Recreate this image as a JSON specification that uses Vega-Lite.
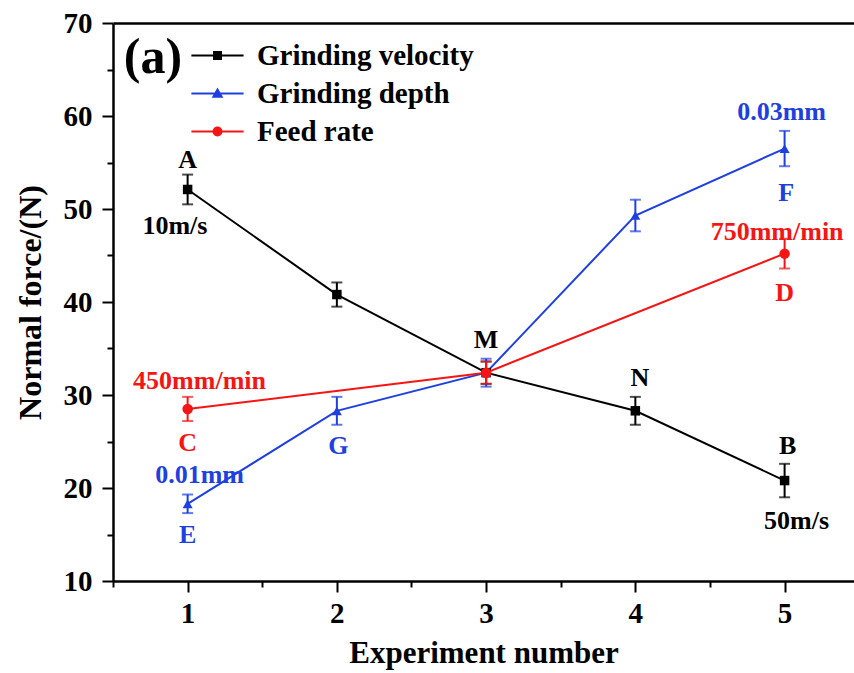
{
  "$schema": "https://vega.github.io/schema/vega-lite/v6.json",
  "width": 741,
  "height": 558,
  "autosize": {"type": "none"},
  "padding": {"left": 113, "top": 23, "right": 0, "bottom": 92},
  "background": "white",
  "config": {
    "view": {"stroke": null},
    "font": "Liberation Serif",
    "axis": {
      "grid": false,
      "domainColor": "black",
      "domainWidth": 2.5,
      "tickColor": "black",
      "tickWidth": 2,
      "labelFont": "Liberation Serif",
      "labelFontSize": 29,
      "labelFontWeight": "bold",
      "labelColor": "black",
      "titleFont": "Liberation Serif",
      "titleFontSize": 31,
      "titleFontWeight": "bold",
      "titleColor": "black"
    },
    "legend": {
      "labelFont": "Liberation Serif",
      "labelFontSize": 29,
      "labelFontWeight": "bold",
      "labelColor": "black",
      "labelLimit": 400
    }
  },
  "datasets": {
    "pts": [
      {"series": "Grinding velocity", "exp": 1, "force": 52.1, "err": 1.6},
      {"series": "Grinding velocity", "exp": 2, "force": 40.8, "err": 1.3},
      {"series": "Grinding velocity", "exp": 3, "force": 32.4, "err": 1.2},
      {"series": "Grinding velocity", "exp": 4, "force": 28.3, "err": 1.5},
      {"series": "Grinding velocity", "exp": 5, "force": 20.8, "err": 1.8},
      {"series": "Grinding depth", "exp": 1, "force": 18.3, "err": 1.0},
      {"series": "Grinding depth", "exp": 2, "force": 28.3, "err": 1.5},
      {"series": "Grinding depth", "exp": 3, "force": 32.4, "err": 1.5},
      {"series": "Grinding depth", "exp": 4, "force": 49.3, "err": 1.7},
      {"series": "Grinding depth", "exp": 5, "force": 56.5, "err": 1.9},
      {"series": "Feed rate", "exp": 1, "force": 28.5, "err": 1.3},
      {"series": "Feed rate", "exp": 3, "force": 32.4, "err": 1.2},
      {"series": "Feed rate", "exp": 5, "force": 45.2, "err": 1.6}
    ],
    "labels": [
      {"series": "Grinding velocity", "x": 1.0, "y": 55.3, "text": "A"},
      {"series": "Grinding velocity", "x": 0.915, "y": 48.2, "text": "10m/s"},
      {"series": "Grinding velocity", "x": 3.0, "y": 35.9, "text": "M"},
      {"series": "Grinding velocity", "x": 4.03, "y": 31.8, "text": "N"},
      {"series": "Grinding velocity", "x": 5.02, "y": 24.5, "text": "B"},
      {"series": "Grinding velocity", "x": 5.08, "y": 16.5, "text": "50m/s"},
      {"series": "Feed rate", "x": 1.08, "y": 31.5, "text": "450mm/min"},
      {"series": "Feed rate", "x": 1.0, "y": 24.8, "text": "C"},
      {"series": "Grinding depth", "x": 1.08, "y": 21.4, "text": "0.01mm"},
      {"series": "Grinding depth", "x": 1.0, "y": 14.9, "text": "E"},
      {"series": "Grinding depth", "x": 2.01, "y": 24.5, "text": "G"},
      {"series": "Grinding depth", "x": 4.98, "y": 60.4, "text": "0.03mm"},
      {"series": "Grinding depth", "x": 5.01, "y": 51.7, "text": "F"},
      {"series": "Feed rate", "x": 4.95, "y": 47.5, "text": "750mm/min"},
      {"series": "Feed rate", "x": 5.0, "y": 41.0, "text": "D"}
    ],
    "panel": [
      {"x": 0.768, "y": 64.6, "text": "(a)"}
    ]
  },
  "layer": [
    {
      "data": {"name": "pts"},
      "mark": {"type": "line", "strokeWidth": 2},
      "encoding": {
        "x": {
          "field": "exp", "type": "quantitative",
          "scale": {"domain": [0.5, 5.465], "nice": false, "zero": false},
          "axis": {
            "values": [0.5, 1, 1.5, 2, 2.5, 3, 3.5, 4, 4.5, 5, 5.5],
            "labelExpr": "datum.value % 1 === 0 ? format(datum.value, 'd') : ''",
            "tickSize": {"condition": {"test": "datum.value % 1 !== 0", "value": 6}, "value": 11},
            "labelPadding": 7,
            "title": "Experiment number",
            "titlePadding": 10
          }
        },
        "y": {
          "field": "force", "type": "quantitative",
          "title": "Normal force/(N)",
          "scale": {"domain": [10, 70], "nice": false, "zero": false},
          "axis": {
            "values": [10, 15, 20, 25, 30, 35, 40, 45, 50, 55, 60, 65, 70],
            "labelExpr": "datum.value % 10 === 0 ? format(datum.value, 'd') : ''",
            "tickSize": {"condition": {"test": "datum.value % 10 !== 0", "value": 6}, "value": 11},
            "labelPadding": 10,
            "title": "Normal force/(N)",
            "titleFontSize": 32,
            "titleX": -83,
            "titleBaseline": "middle"
          }
        },
        "color": {
          "field": "series", "type": "nominal",
          "scale": {"domain": ["Grinding velocity", "Grinding depth", "Feed rate"], "range": ["#000000", "#1f40e0", "#f51515"]},
          "legend": null
        },
        "order": {"field": "exp"}
      }
    },
    {
      "data": {"name": "panel"},
      "mark": {"type": "text", "font": "Liberation Serif", "fontWeight": "bold", "fontSize": 50, "baseline": "alphabetic", "align": "center", "color": "black"},
      "encoding": {
        "x": {"field": "x", "type": "quantitative", "axis": {"orient": "top", "labels": false, "ticks": false, "title": null, "domainWidth": 2.5}},
        "y": {"field": "y", "type": "quantitative", "title": "Normal force/(N)"},
        "text": {"field": "text"}
      }
    },
    {
      "data": {"name": "pts"},
      "mark": {"type": "errorbar", "thickness": 2, "ticks": {"size": 11, "thickness": 2}},
      "encoding": {
        "x": {"field": "exp", "type": "quantitative", "axis": null},
        "y": {"field": "force", "type": "quantitative", "title": "Normal force/(N)"},
        "yError": {"field": "err"},
        "color": {"field": "series", "type": "nominal", "legend": null}
      }
    },
    {
      "data": {"name": "pts"},
      "mark": {"type": "point", "filled": true, "opacity": 1},
      "encoding": {
        "x": {"field": "exp", "type": "quantitative", "axis": null},
        "y": {"field": "force", "type": "quantitative", "title": "Normal force/(N)"},
        "color": {"field": "series", "type": "nominal", "legend": null},
        "shape": {
          "field": "series", "type": "nominal",
          "scale": {"domain": ["Grinding velocity", "Grinding depth", "Feed rate"], "range": ["square", "triangle-up", "circle"]},
          "legend": null
        },
        "size": {
          "field": "series", "type": "nominal",
          "scale": {"domain": ["Grinding velocity", "Grinding depth", "Feed rate"], "range": [90, 110, 90]},
          "legend": null
        }
      }
    },
    {
      "data": {"name": "pts"},
      "mark": {"type": "point", "filled": true, "opacity": 0, "size": 81},
      "encoding": {
        "x": {"field": "exp", "type": "quantitative", "axis": null},
        "y": {"field": "force", "type": "quantitative", "title": "Normal force/(N)"},
        "color": {
          "field": "series", "type": "nominal",
          "legend": {"title": null, "orient": "none", "legendX": 90, "legendY": 18, "symbolOpacity": 1, "symbolSize": 81, "labelOffset": 25, "rowPadding": 8, "labelLimit": 400}
        },
        "shape": {
          "field": "series", "type": "nominal",
          "scale": {
            "domain": ["Grinding velocity", "Grinding depth", "Feed rate"],
            "range": [
              "M-5.8,-0.22H5.8V0.22H-5.8Z M-1,-1H1V1H-1Z",
              "M-5.8,-0.22H5.8V0.22H-5.8Z M0,-1.35L1.3,0.95H-1.3Z",
              "M-5.8,-0.22H5.8V0.22H-5.8Z M1.1,0A1.1,1.1,0,1,1,-1.1,0A1.1,1.1,0,1,1,1.1,0Z"
            ]
          },
          "legend": {"title": null, "orient": "none", "legendX": 90, "legendY": 18, "symbolOpacity": 1, "symbolSize": 81, "labelOffset": 25, "rowPadding": 8, "labelLimit": 400}
        }
      }
    },
    {
      "data": {"name": "labels"},
      "mark": {"type": "text", "font": "Liberation Serif", "fontWeight": "bold", "fontSize": 26, "baseline": "middle", "align": "center"},
      "encoding": {
        "x": {"field": "x", "type": "quantitative", "axis": null},
        "y": {"field": "y", "type": "quantitative", "title": "Normal force/(N)"},
        "text": {"field": "text"},
        "color": {"field": "series", "type": "nominal", "legend": null}
      }
    }
  ],
  "resolve": {
    "axis": {"x": "independent"},
    "scale": {"shape": "independent", "size": "independent"},
    "legend": {"color": "independent", "shape": "independent"}
  }
}
